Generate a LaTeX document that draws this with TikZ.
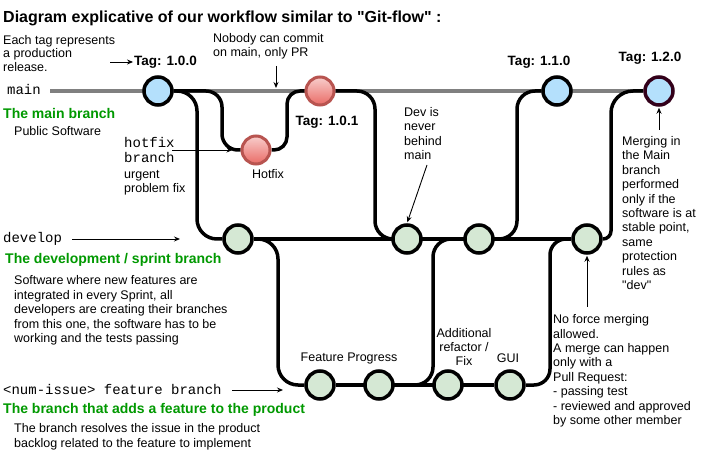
\documentclass[tikz,border=0pt]{standalone}
\usepackage{fontspec}
\setmainfont{Liberation Sans}[Ligatures=TeXOff]
\setmonofont{Liberation Mono}
\usetikzlibrary{arrows.meta,backgrounds}
\definecolor{blueF}{RGB}{180,224,252}
\definecolor{greenF}{HTML}{D5E8D4}
\definecolor{redB}{HTML}{B85450}
\definecolor{redTop}{HTML}{F8CECC}
\definecolor{redBot}{HTML}{EA6B66}
\definecolor{txtG}{HTML}{009900}
\definecolor{mainGray}{HTML}{808080}
\definecolor{darkMaroon}{HTML}{33001A}
\tikzset{
  commit/.style={circle, minimum size=28pt, inner sep=0pt, line width=3.5pt, draw=black},
  bluec/.style={commit, fill=blueF},
  greenc/.style={commit, fill=greenF},
  redc/.style={commit, draw=redB, line width=3pt, top color=redTop, bottom color=redBot},
  branchline/.style={line width=3.5pt, black},
  mainline/.style={line width=3.5pt, mainGray},
  notearrow/.style={-{Stealth[length=6pt,width=5pt]}, line width=0.9pt},
  txt/.style={inner sep=0pt, font=\fontsize{12.5}{14.4}\selectfont, align=left},
  tagtxt/.style={inner sep=1pt, font=\fontsize{13.5}{16}\selectfont\bfseries},
  monotxt/.style={inner sep=0pt, font=\fontsize{14}{15}\selectfont\ttfamily, align=left},
  greentxt/.style={inner sep=0pt, font=\fontsize{14}{16}\selectfont\bfseries, text=txtG},
}
\begin{document}
\begin{tikzpicture}[x=1pt,y=-1pt]
\useasboundingbox (0,0) rectangle (707,454);

% commits
\node[bluec] (t100) at (158,91) {};
\node[redc] (t101) at (320,91) {};
\node[redc] (hf) at (256,150) {};
\node[bluec] (t110) at (557,91) {};
\node[bluec, draw=darkMaroon] (t120) at (659,91) {};
\node[greenc] (d1) at (238,239) {};
\node[greenc] (d2) at (407,239) {};
\node[greenc] (d3) at (479,239) {};
\node[greenc] (d4) at (587,239) {};
\node[greenc] (f1) at (320,385) {};
\node[greenc] (f2) at (379,385) {};
\node[greenc] (f3) at (448,385) {};
\node[greenc] (f4) at (510,385) {};

% vertical guide coordinates
\coordinate (mstart) at (50,91);
\coordinate (v1) at (222,0);
\coordinate (v2) at (287,0);
\coordinate (v3) at (197,0);
\coordinate (v4) at (375,0);
\coordinate (v5) at (517,0);
\coordinate (v6) at (611,0);
\coordinate (v7) at (278,0);
\coordinate (v8) at (433,0);
\coordinate (v9) at (550,0);

\begin{scope}[on background layer]
\fill[white] (0,0) rectangle (707,454);
\draw[mainline] (mstart) -- (t120);
\draw[branchline] (d1) -- (d4);
\draw[branchline] (f1) -- (f4);
\draw[branchline, rounded corners=16pt] (t100.east) -- (t100.east -| v1) -- (hf.west -| v1) -- (hf.west);
\draw[branchline, rounded corners=13pt] (hf.east) -- (hf.east -| v2) -- (t101.west -| v2) -- (t101.west);
\draw[branchline, rounded corners=20pt] (t100.east) -- (t100.east -| v3) -- (d1.west -| v3) -- (d1.west);
\draw[branchline, rounded corners=18pt] (t101.east) -- (t101.east -| v4) -- (d2.west -| v4) -- (d2.west);
\draw[branchline, rounded corners=18pt] (d3.east) -- (d3.east -| v5) -- (t110.west -| v5) -- (t110.west);
\draw[branchline, rounded corners=8pt] (d4.east) -- (d4.east -| v6) [rounded corners=22pt] -- (t120.west -| v6) -- (t120.west);
\draw[branchline, rounded corners=20pt] (d1.east) -- (d1.east -| v7) -- (f1.west -| v7) -- (f1.west);
\draw[branchline, rounded corners=18pt] (f2.east) -- (f2.east -| v8) -- (d3.west -| v8) -- (d3.west);
\draw[branchline, rounded corners=16pt] (f4.east) -- (f4.east -| v9) -- (d4.west -| v9) -- (d4.west);
\end{scope}

% texts (multi-line nodes: base = baseline of last line)
\node[inner sep=0pt, font=\fontsize{16}{18}\selectfont\bfseries, anchor=base west] (title) at (3,22.7) {Diagram explicative of our workflow similar to "Git-flow" :};
\node[txt, font=\fontsize{12.5}{13.6}\selectfont, anchor=base west] (eachtag) at (3,71.5) {Each tag represents\\a production\\release.};
\node[txt, anchor=base west] (nobody) at (213,56.5) {Nobody can commit\\on main, only PR};
\node[monotxt, anchor=base west] (mainlbl) at (7,94.5) {main};
\node[greentxt, anchor=base west] (mainhead) at (3,119) {The main branch};
\node[txt, anchor=base west] (mainsub) at (14,135.5) {Public Software};
\node[monotxt, anchor=base west] (hotfixlbl) at (124,163) {hotfix\\branch};
\node[txt, anchor=base west] (hotfixsub) at (124,192.5) {urgent\\problem fix};
\node[txt] (hflbl) at (268,174) {Hotfix};
\node[tagtxt] (tag100) at (165.5,62) {Tag: 1.0.0};
\node[tagtxt] (tag101) at (327,122) {Tag: 1.0.1};
\node[tagtxt] (tag110) at (539,62) {Tag: 1.1.0};
\node[tagtxt] (tag120) at (650,58) {Tag: 1.2.0};
\node[txt, anchor=base west] (devis) at (404,159.5) {Dev is\\never\\behind\\main};
\node[txt, anchor=base west] (merging) at (622,289.5) {Merging in\\the Main\\branch\\performed\\only if the\\software is at\\stable point,\\same\\protection\\rules as\\"dev"};
\node[monotxt, anchor=base west] (devlbl) at (3,243) {develop};
\node[greentxt, anchor=base west] (devhead) at (5,264) {The development / sprint branch};
\node[txt, anchor=base west] (devsub) at (14,342.5) {Software where new features are\\integrated in every Sprint, all\\developers are creating their branches\\from this one, the software has to be\\working and the tests passing};
\node[txt] (featprog) at (349,358) {Feature Progress};
\node[txt, align=center] (addref) at (464,347) {Additional\\refactor /\\Fix};
\node[txt] (gui) at (508,358) {GUI};
\node[monotxt, anchor=base west] (featlbl) at (3,394) {<num-issue> feature branch};
\node[greentxt, anchor=base west] (feathead) at (3,413) {The branch that adds a feature to the product};
\node[txt, font=\fontsize{12.5}{15.5}\selectfont, anchor=base west] (featsub) at (14,447.5) {The branch resolves the issue in the product\\backlog related to the feature to implement};
\node[txt, anchor=base west] (noforce) at (553,424.5) {No force merging\\allowed.\\A merge can happen\\only with a\\Pull Request:\\- passing test\\- reviewed and approved\\by some other member};

% note arrows
\coordinate (a1s) at (110,62);
\coordinate (a2s) at (276,66);
\coordinate (a2e) at (276,88);
\coordinate (a3s) at (172,150);
\coordinate (a4s) at (427,165);
\coordinate (a5s) at (659,130);
\coordinate (a6s) at (72,239);
\coordinate (a6e) at (180,239);
\coordinate (a7s) at (232,390);
\coordinate (a7e) at (283,390);
\coordinate (a8s) at (587,307);
\draw[notearrow] (a1s) -- (tag100.west);
\draw[notearrow] (a2s) -- (a2e);
\draw[notearrow, shorten >=8pt] (a3s) -- (hf.west);
\draw[notearrow, shorten >=1pt] (a4s) -- (d2.north);
\draw[notearrow, shorten >=1pt] (a5s) -- (t120.south);
\draw[notearrow] (a6s) -- (a6e);
\draw[notearrow] (a7s) -- (a7e);
\draw[notearrow, shorten >=1pt] (a8s) -- (d4.south);
\end{tikzpicture}
\end{document}
